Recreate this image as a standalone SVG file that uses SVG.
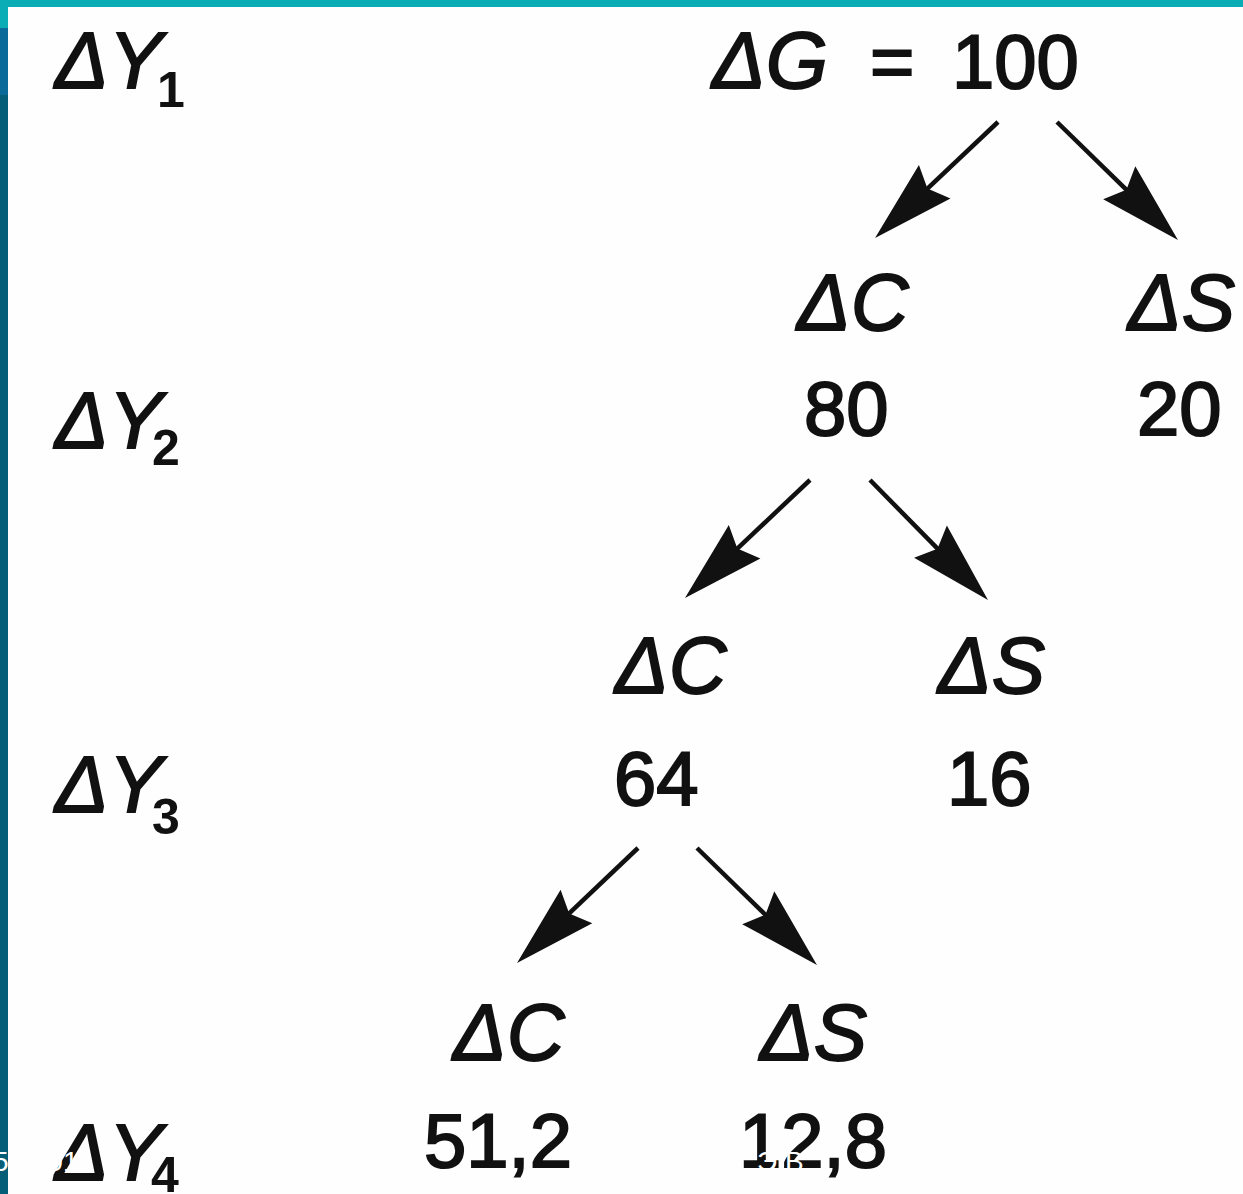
<svg xmlns="http://www.w3.org/2000/svg" width="1243" height="1194" viewBox="0 0 1243 1194">
  <style>
    .lbl { font-family: "Liberation Sans", Arial, sans-serif; font-size: 80px; font-style: italic; fill: #111; stroke: #111; stroke-width: 1.8px; }
    .num { font-family: "Liberation Sans", Arial, sans-serif; font-size: 76px; fill: #111; stroke: #111; stroke-width: 2px; }
    .sub { font-family: "Liberation Sans", Arial, sans-serif; font-size: 50px; font-weight: bold; fill: #111; }
    .foot { font-family: "Liberation Sans", Arial, sans-serif; font-size: 28px; fill: #ffffff; }
    .arrow { stroke: #111; stroke-width: 4.5; fill: none; marker-end: url(#head); }
  </style>
  <defs>
    <marker id="head" markerUnits="userSpaceOnUse" viewBox="-30 -30 100 60" markerWidth="100" markerHeight="60" refX="0" refY="0" orient="auto" overflow="visible">
      <path d="M60,0 L-22,-23 L-12,0 L-22,23 Z" fill="#111"/>
    </marker>
  </defs>

  <rect x="0" y="0" width="1243" height="1194" fill="#fefefe"/>
  <!-- frame bars -->
  <rect x="0" y="0" width="1243" height="7" fill="#0aacb5"/>
  <rect x="0" y="0" width="8" height="28" fill="#0aacb5"/>
  <rect x="0" y="28" width="8" height="67" fill="#0a6b9b"/>
  <rect x="0" y="95" width="8" height="1099" fill="#055e78"/>

  <!-- row labels -->
  <g id="dY1"><text class="lbl" x="55" y="88">ΔY</text><text class="sub" x="157" y="107">1</text></g>
  <g id="dY2"><text class="lbl" x="55" y="448">ΔY</text><text class="sub" x="152" y="465">2</text></g>
  <g id="dY3"><text class="lbl" x="55" y="812">ΔY</text><text class="sub" x="152" y="834">3</text></g>
  <g id="dY4"><text class="lbl" x="55" y="1180">ΔY</text><text class="sub" x="151" y="1192">4</text></g>

  <!-- nodes -->
  <g id="G"><text x="712" y="88"><tspan class="lbl">ΔG</tspan><tspan class="num" x="870">=</tspan><tspan class="num" x="952">100</tspan></text></g>

  <g id="C1"><text class="lbl" x="797" y="330">ΔC</text><text class="num" x="804" y="435">80</text></g>
  <g id="S1"><text class="lbl" x="1128" y="330">ΔS</text><text class="num" x="1137" y="435">20</text></g>

  <g id="C2"><text class="lbl" x="615" y="693">ΔC</text><text class="num" x="614" y="805">64</text></g>
  <g id="S2"><text class="lbl" x="938" y="693">ΔS</text><text class="num" x="947" y="805">16</text></g>

  <g id="C3"><text class="lbl" x="453" y="1060">ΔC</text><text class="num" x="424" y="1167">51,2</text></g>
  <g id="S3"><text class="lbl" x="760" y="1060">ΔS</text><text class="num" x="739" y="1167">12,8</text></g>

  <!-- connectors -->
  <g id="connectors">
    <line class="arrow" x1="998" y1="122" x2="918.7" y2="196.8"/>
    <line class="arrow" x1="1057" y1="122" x2="1135" y2="198.1"/>
    <line class="arrow" x1="810" y1="480" x2="728.6" y2="556.8"/>
    <line class="arrow" x1="870" y1="480" x2="945.9" y2="557.2"/>
    <line class="arrow" x1="638" y1="848" x2="560.5" y2="921.7"/>
    <line class="arrow" x1="697" y1="848" x2="774" y2="923.1"/>
  </g>

  <!-- footer text -->
  <g id="footer">
    <text class="foot" x="-7" y="1171">5<tspan x="24">.2011</tspan></text>
    <text class="foot" x="757" y="1171">Э.В.</text>
  </g>
</svg>
